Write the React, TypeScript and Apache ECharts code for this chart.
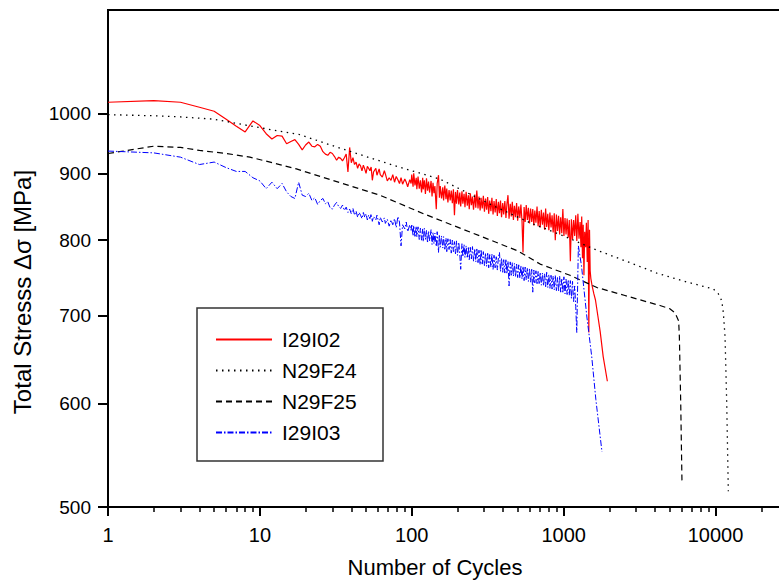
import React, { useEffect, useRef } from "react";
import * as echarts from "echarts";

const FONT = '"Liberation Sans", Arial, Helvetica, sans-serif';

const seriesNames = ["I29I02", "N29F24", "N29F25", "I29I03"];
const yTickValues = [500, 600, 700, 800, 900, 1000];
const xMinorTickValues = [
  2, 3, 4, 5, 6, 7, 8, 9,
  20, 30, 40, 50, 60, 70, 80, 90,
  200, 300, 400, 500, 600, 700, 800, 900,
  2000, 3000, 4000, 5000, 6000, 7000, 8000, 9000,
  20000,
];

const i29i02: [number, number][] = [
  [1, 1020], [2, 1023], [3, 1020], [4, 1011], [5, 1004], [6, 990], [7, 978], [8, 968], [9, 987], [10, 979],
  [11, 965], [12, 956], [13, 962], [14, 961], [15, 948], [16, 952], [17, 955], [18, 947], [19, 938], [20, 946],
  [21, 951], [22, 944], [23, 943], [24, 947], [25, 944], [26, 935], [27, 931], [28, 929], [29, 934], [30, 932],
  [31, 927], [32, 921], [33, 926], [34, 924], [35, 920], [36, 925], [37, 931], [38, 902], [39, 942], [40, 917],
  [41, 925], [42, 914], [43, 918], [44, 908], [45, 915], [46, 912], [47, 904], [48, 913], [49, 907], [50, 900],
  [51, 911], [52, 908], [53, 904], [54, 910], [55, 889], [56, 902], [58, 908], [59, 897], [61, 907], [62, 898],
  [64, 894], [66, 904], [67, 899], [69, 888], [71, 893], [73, 889], [75, 898], [77, 886], [79, 895], [81, 890],
  [83, 884], [85, 893], [87, 883], [90, 891], [92, 886], [94, 879], [97, 890], [99, 884],
  [100, 898], [102, 879], [103, 900], [105, 881], [107, 893], [108, 875], [110, 895], [112, 876], [114, 889], [116, 870],
  [118, 893], [119, 875], [121, 889], [123, 868], [125, 892], [127, 873], [129, 887], [131, 870], [134, 888], [136, 864],
  [138, 885], [140, 869], [142, 880], [145, 845], [147, 884], [150, 897], [152, 862], [154, 880], [157, 861], [160, 878],
  [162, 858], [165, 881], [168, 860], [170, 876], [173, 855], [176, 874], [179, 858], [182, 873], [185, 854], [188, 875],
  [191, 836], [194, 871], [197, 853], [200, 874], [204, 852], [207, 870], [210, 849], [214, 872], [217, 853], [221, 868],
  [224, 848], [228, 871], [232, 850], [236, 866], [239, 845], [243, 869], [247, 851], [251, 864], [255, 844], [260, 867],
  [264, 847], [268, 873], [273, 846], [277, 864], [282, 843], [286, 862], [291, 846], [296, 865], [301, 841], [306, 861],
  [311, 844], [316, 863], [321, 838], [326, 858], [332, 842], [337, 862], [343, 837], [348, 857], [354, 840], [360, 860],
  [366, 835], [372, 856], [378, 839], [384, 858], [390, 833], [397, 854], [403, 837], [410, 857], [417, 832], [423, 852],
  [430, 866], [437, 831], [445, 853], [452, 834], [459, 856], [467, 829], [474, 850], [482, 833], [490, 854], [498, 828],
  [506, 849], [515, 832], [523, 852], [532, 827], [540, 783], [549, 848], [558, 826], [567, 851], [577, 829], [586, 847],
  [596, 824], [606, 846], [616, 826], [626, 845], [636, 821], [646, 843], [657, 825], [668, 849], [679, 820], [690, 842],
  [701, 818], [713, 844], [725, 822], [737, 840], [749, 815], [761, 846], [773, 819], [786, 838], [799, 814], [812, 840],
  [826, 818], [839, 836], [853, 811], [867, 839], [881, 800], [896, 837], [911, 813], [926, 835], [941, 808], [956, 833],
  [972, 810], [988, 845], [1004, 806], [1021, 832], [1037, 808], [1054, 831], [1072, 804], [1089, 829], [1107, 771], [1125, 830],
  [1144, 801], [1163, 829], [1182, 806], [1201, 836], [1221, 799], [1241, 838], [1262, 802], [1283, 826], [1300, 790], [1315, 834],
  [1330, 775], [1345, 822], [1360, 752], [1376, 812], [1395, 790], [1412, 825], [1430, 770], [1449, 829], [1465, 680], [1480, 815],
  [1495, 758], [1510, 748], [1540, 738], [1580, 728], [1620, 720], [1680, 700], [1740, 681], [1820, 652], [1940, 624],
];

const n29f24: [number, number][] = [
  [1, 998], [2, 996], [3, 994], [5, 990], [8, 980], [13, 970], [18, 964], [30, 945], [50, 927], [80, 911],
  [153, 891], [250, 866], [344, 850], [600, 825], [1000, 806], [1567, 788], [2500, 772], [4100, 755], [6000, 745],
  [8500, 737], [9680, 734], [10430, 728], [10990, 719], [11260, 704], [11550, 675], [11850, 600], [12140, 514],
];

const n29f25: [number, number][] = [
  [1, 932], [2, 944], [3, 942], [4, 937], [6, 932], [8.6, 926], [13.5, 914], [17.4, 907], [30, 889], [61.6, 866],
  [120, 838], [281, 806], [500, 785], [700, 767], [1100, 752], [1656, 736], [2500, 726], [4307, 713], [5000, 709],
  [5410, 704], [5717, 694], [5780, 675], [5900, 600], [6010, 524],
];

const i29i03: [number, number][] = [
  [1, 936], [2, 933], [3, 926], [4, 914], [5, 918], [6, 909], [7, 903], [8, 903], [9, 893], [10, 888],
  [11, 876], [12, 886], [13, 876], [14, 884], [15, 871], [16, 864], [17, 861], [18, 886], [19, 866], [20, 864],
  [21, 869], [22, 858], [23, 862], [24, 852], [25, 858], [26, 861], [27, 853], [28, 856], [29, 847], [30, 845],
  [31, 851], [32, 855], [33, 849], [34, 846], [35, 851], [36, 843], [37, 848], [38, 840], [39, 845], [40, 838],
  [41, 846], [42, 836], [43, 842], [44, 833], [45, 840], [46, 836], [47, 831], [48, 840], [49, 833], [50, 838],
  [51, 829], [52, 836], [53, 831], [54, 838], [55, 827], [56, 834], [58, 829], [59, 836], [61, 822], [62, 833],
  [64, 826], [66, 832], [67, 824], [69, 830], [71, 820], [73, 829], [75, 822], [77, 831], [79, 818], [81, 834],
  [83, 826], [85, 792], [87, 822], [90, 816], [92, 826], [94, 812], [97, 822], [99, 814],
  [100, 823], [102, 806], [103, 821], [105, 804], [107, 820], [108, 805], [110, 819], [112, 801], [114, 817], [116, 800],
  [118, 816], [119, 798], [121, 817], [123, 801], [125, 814], [127, 796], [129, 813], [131, 799], [134, 815], [136, 794],
  [138, 811], [140, 795], [142, 810], [145, 791], [147, 812], [150, 783], [152, 808], [154, 790], [157, 806], [160, 789],
  [162, 805], [165, 786], [168, 803], [170, 784], [173, 802], [176, 787], [179, 801], [182, 782], [185, 800], [188, 784],
  [191, 798], [194, 781], [197, 799], [200, 779], [204, 797], [207, 781], [210, 760], [214, 795], [217, 777], [221, 794],
  [224, 776], [228, 792], [232, 775], [236, 791], [239, 773], [243, 790], [247, 774], [251, 791], [255, 771], [260, 788],
  [264, 770], [268, 789], [273, 769], [277, 786], [282, 766], [286, 787], [291, 767], [296, 784], [301, 765], [306, 782],
  [311, 764], [316, 783], [321, 762], [326, 780], [332, 763], [337, 781], [343, 760], [348, 779], [354, 762], [360, 777],
  [366, 759], [372, 776], [378, 783], [384, 757], [390, 775], [397, 756], [403, 773], [410, 755], [417, 774], [423, 754],
  [430, 771], [437, 738], [445, 770], [452, 752], [459, 769], [467, 751], [474, 768], [482, 750], [490, 767], [498, 749],
  [506, 766], [515, 748], [523, 765], [532, 747], [540, 764], [549, 745], [558, 763], [567, 746], [577, 762], [586, 744],
  [596, 761], [606, 743], [616, 760], [626, 730], [636, 759], [646, 742], [657, 758], [668, 741], [679, 757], [690, 740],
  [701, 756], [713, 739], [725, 755], [737, 738], [749, 754], [761, 737], [773, 756], [786, 736], [799, 753], [812, 735],
  [826, 752], [839, 734], [853, 751], [867, 733], [881, 752], [896, 732], [911, 749], [926, 731], [941, 751], [956, 730],
  [972, 748], [988, 729], [1004, 750], [1021, 728], [1037, 747], [1054, 727], [1072, 746], [1089, 726], [1107, 745], [1125, 722],
  [1144, 744], [1163, 718], [1182, 738], [1201, 712], [1220, 680], [1250, 792], [1310, 765], [1420, 700], [1530, 652], [1630, 604],
  [1788, 551],
];

export default function App() {
  const ref = useRef<HTMLDivElement>(null);

  useEffect(() => {
    document.body.style.margin = "0";
    if (!ref.current) return;
    const chart = echarts.init(ref.current, null, { renderer: "svg" });
    const fmt = (v: number) => String(Math.round(v));
    chart.setOption({
      animation: false,
      backgroundColor: "#fff",
      grid: {
        left: 108,
        top: 10,
        width: 680,
        height: 497,
        show: true,
        borderColor: "#000",
        borderWidth: 2,
        backgroundColor: "transparent",
        containLabel: false,
        outerBoundsMode: "none",
      },
      xAxis: [
        {
          type: "log",
          logBase: 10,
          min: 1,
          max: 30000,
          position: "bottom",
          axisLine: { show: true, lineStyle: { color: "#000", width: 2 } },
          axisTick: { show: true, inside: false, length: 9, lineStyle: { color: "#000", width: 2 } },
          axisLabel: {
            color: "#000",
            fontSize: 20,
            fontFamily: FONT,
            margin: 18,
            formatter: fmt,
            showMaxLabel: false,
            hideOverlap: false,
          },
          splitLine: { show: false },
          minorTick: { show: false },
        },
        {
          type: "log",
          logBase: 10,
          min: 1,
          max: 30000,
          position: "bottom",
          axisLine: { show: false },
          axisTick: {
            show: true,
            inside: false,
            length: 5,
            customValues: xMinorTickValues,
            lineStyle: { color: "#000", width: 1.5 },
          },
          axisLabel: { show: false },
          splitLine: { show: false },
        },
      ],
      yAxis: {
        type: "log",
        logBase: 10,
        min: 500,
        max: 1200,
        axisLine: { show: true, lineStyle: { color: "#000", width: 2 } },
        axisTick: {
          show: true,
          inside: false,
          length: 10,
          customValues: yTickValues,
          lineStyle: { color: "#000", width: 2 },
        },
        axisLabel: {
          color: "#000",
          fontSize: 19,
          fontFamily: FONT,
          margin: 17,
          customValues: yTickValues,
          formatter: fmt,
        },
        splitLine: { show: false },
      },
      legend: {
        data: seriesNames,
        orient: "vertical",
        left: 215,
        top: 329,
        padding: 0,
        itemWidth: 56,
        itemHeight: 14,
        itemGap: 10,
        selectedMode: false,
        itemStyle: { opacity: 0 },
        textStyle: {
          fontSize: 21,
          fontFamily: FONT,
          color: "#000",
          lineHeight: 20,
          padding: [0, 0, 0, 5],
        },
      },
      graphic: [
        {
          type: "rect",
          shape: { x: 197, y: 308, width: 186, height: 153 },
          style: { fill: "none", stroke: "#333", lineWidth: 1.5 },
          z: 10,
        },
        {
          type: "text",
          x: 435,
          y: 567,
          style: {
            text: "Number of Cycles",
            fontSize: 22,
            fontFamily: FONT,
            fill: "#000",
            align: "center",
            verticalAlign: "middle",
            textAlign: "center",
            textVerticalAlign: "middle",
          },
        },
        {
          type: "text",
          x: 22,
          y: 292,
          rotation: Math.PI / 2,
          style: {
            text: "Total Stresss Δσ [MPa]",
            fontSize: 24,
            fontFamily: FONT,
            fill: "#000",
            align: "center",
            verticalAlign: "middle",
            textAlign: "center",
            textVerticalAlign: "middle",
          },
        },
      ],
      series: [
        {
          name: seriesNames[0],
          type: "line",
          data: i29i02,
          symbol: "none",
          showSymbol: false,
          lineStyle: { color: "#ff0000", width: 1.2, type: "solid" },
          itemStyle: { color: "#ff0000" },
        },
        {
          name: seriesNames[1],
          type: "line",
          xAxisIndex: 1,
          data: n29f24,
          symbol: "none",
          showSymbol: false,
          lineStyle: { color: "#000", width: 1.3, type: [1.5, 4.5] },
          itemStyle: { color: "#000" },
        },
        {
          name: seriesNames[2],
          type: "line",
          data: n29f25,
          symbol: "none",
          showSymbol: false,
          lineStyle: { color: "#000", width: 1.2, type: [6, 4] },
          itemStyle: { color: "#000" },
        },
        {
          name: seriesNames[3],
          type: "line",
          data: i29i03,
          symbol: "none",
          showSymbol: false,
          lineStyle: { color: "#0000ff", width: 1, type: [6, 2, 1.5, 2] },
          itemStyle: { color: "#0000ff" },
        },
      ],
    });
    return () => chart.dispose();
  }, []);

  return <div ref={ref} style={{ width: 779, height: 582 }} />;
}
